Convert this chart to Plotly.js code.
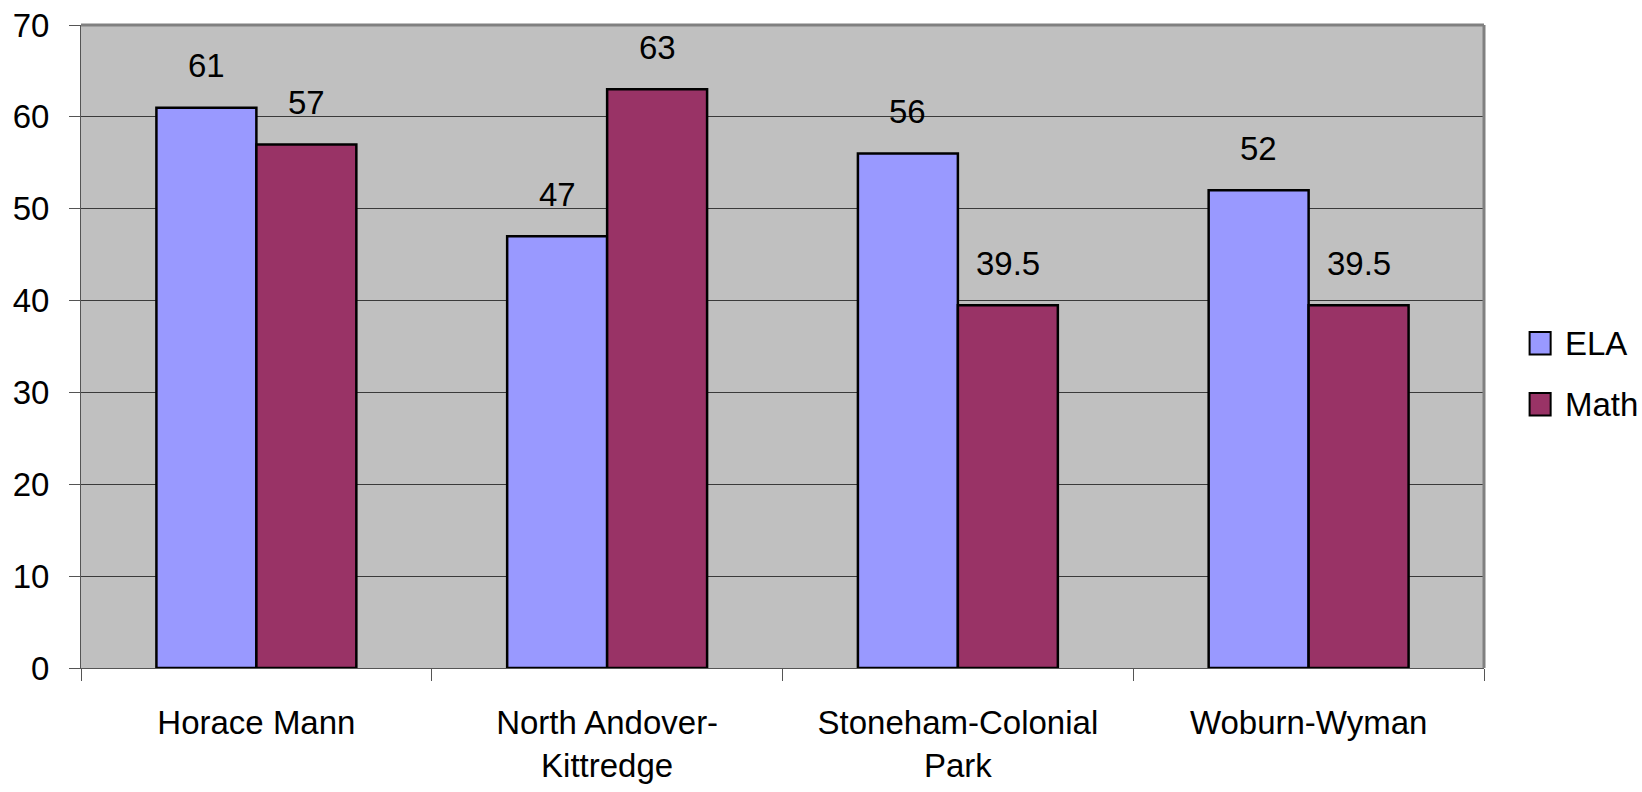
<!DOCTYPE html>
<html>
<head>
<meta charset="utf-8">
<script src="https://cdn.plot.ly/plotly-3.0.1.min.js"></script>
<style>html,body{margin:0;padding:0;background:#fff;}#chart{width:1642px;height:792px;}</style>
</head>
<body>
<div id="chart"></div>
<script>
const categories = ["Horace Mann", "North Andover-<br>Kittredge", "Stoneham-Colonial<br>Park", "Woburn-Wyman"];
const seriesNames = ["ELA", "Math"];
const elaValues = [61, 47, 56, 52];
const mathValues = [57, 63, 39.5, 39.5];
const yTickValues = [0, 10, 20, 30, 40, 50, 60, 70];
const seriesColors = ["#9999FF", "#993366"];

const FONT = "Liberation Sans, Arial, sans-serif";
const FS = 33;

const traces = [
  {type: "bar", name: seriesNames[0], x: categories, y: elaValues, showlegend: false,
   marker: {color: seriesColors[0], line: {color: "#000000", width: 2.5}}},
  {type: "bar", name: seriesNames[1], x: categories, y: mathValues, showlegend: false,
   marker: {color: seriesColors[1], line: {color: "#000000", width: 2.5}}}
];

const annotations = [];
[[elaValues, -50], [mathValues, 50]].forEach(([vals, shift]) => {
  vals.forEach((v, i) => {
    annotations.push({x: categories[i], y: v, xref: "x", yref: "y", text: String(v),
      showarrow: false, xshift: shift, yanchor: "middle", yshift: 42,
      font: {family: FONT, size: FS, color: "#000"}});
  });
});

const shapes = [
  {type: "line", xref: "paper", yref: "paper", x0: 0, x1: 1, y0: 1, y1: 1, line: {color: "#808080", width: 3}},
  {type: "line", xref: "paper", yref: "paper", x0: 1, x1: 1, y0: 0, y1: 1, line: {color: "#808080", width: 3}}
];

// custom legend (larger swatches like the reference)
const legendY = [0.505, 0.41];
seriesNames.forEach((name, i) => {
  shapes.push({type: "rect", xref: "paper", yref: "paper",
    x0: 1.0325, x1: 1.0475, y0: legendY[i] - 0.0175, y1: legendY[i] + 0.0175,
    fillcolor: seriesColors[i], line: {color: "#000", width: 2}});
  annotations.push({xref: "paper", yref: "paper", x: 1.0565, y: legendY[i], text: name,
    showarrow: false, xanchor: "left", yanchor: "middle",
    font: {family: FONT, size: FS, color: "#000"}});
});

const layout = {
  width: 1642, height: 792,
  margin: {l: 81, r: 158, t: 25, b: 124},
  paper_bgcolor: "#ffffff",
  plot_bgcolor: "#C0C0C0",
  barmode: "group",
  bargap: 0.43,
  bargroupgap: 0,
  font: {family: FONT, size: FS, color: "#000"},
  showlegend: false,
  xaxis: {
    type: "category", tickson: "boundaries", ticks: "outside", ticklen: 12, tickcolor: "#555",
    showline: true, linecolor: "#555", linewidth: 1, showgrid: false,
    tickfont: {family: FONT, size: FS, color: "#000"}, ticklabelstandoff: 25
  },
  yaxis: {
    range: [0, 70], tickvals: yTickValues, ticks: "outside", ticklen: 11, tickcolor: "#555",
    showline: true, linecolor: "#555", linewidth: 1, showgrid: true, gridcolor: "#3a3a3a", gridwidth: 1,
    zeroline: false, tickfont: {family: FONT, size: FS, color: "#000"}, ticklabelstandoff: 13
  },
  annotations: annotations,
  shapes: shapes
};

Plotly.newPlot("chart", traces, layout, {displayModeBar: false, staticPlot: true});
</script>
</body>
</html>
